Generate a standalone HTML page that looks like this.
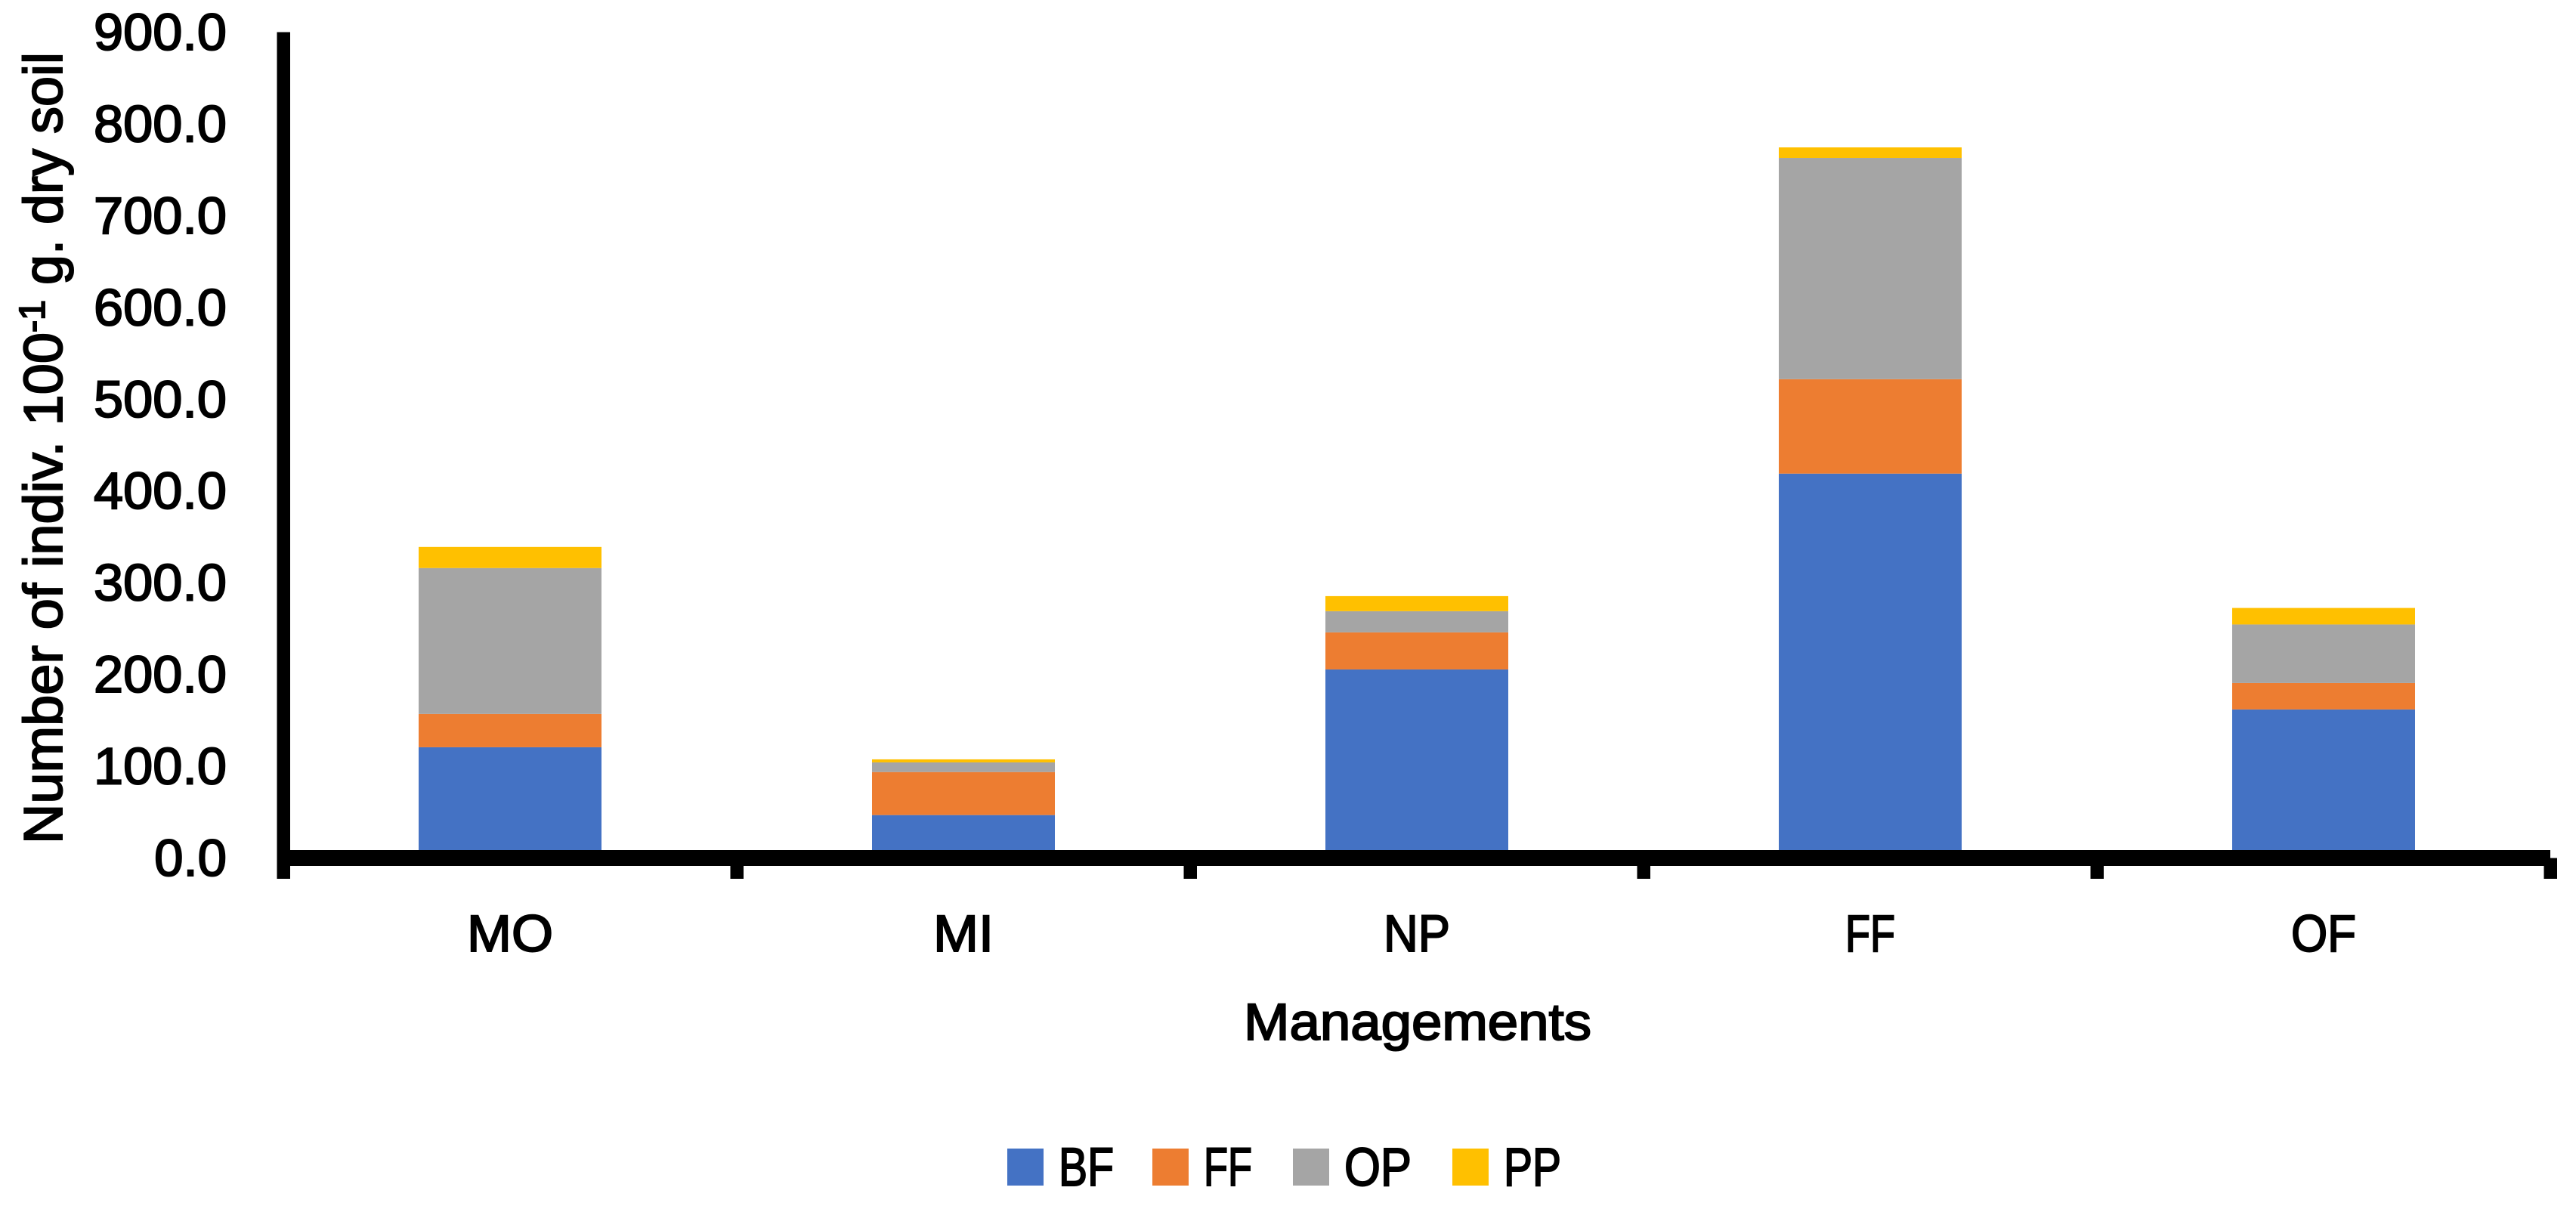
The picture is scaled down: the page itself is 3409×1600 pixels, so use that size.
<!DOCTYPE html>
<html lang="en">
<head>
<meta charset="utf-8">
<title>Number of individuals by management</title>
<style>
html,body{margin:0;padding:0;background:#fff;}
svg{display:block;}
text{font-family:"Liberation Sans",sans-serif;fill:#000;stroke:#000;stroke-width:2px;}
</style>
</head>
<body>
<svg id="chart" xmlns="http://www.w3.org/2000/svg" width="3409" height="1600" viewBox="0 0 3409 1600">
<rect x="0" y="0" width="3409" height="1600" fill="#ffffff"/>
<g id="bars"></g>
<g id="axes"></g>
<g id="labels"></g>
<g>
<text transform="translate(82 1117) rotate(-90)" font-size="72" textLength="677" lengthAdjust="spacingAndGlyphs">Number of indiv. 100</text>
<text transform="translate(59 440) rotate(-90)" font-size="48" textLength="43" lengthAdjust="spacingAndGlyphs">-1</text>
<text transform="translate(82 377) rotate(-90)" font-size="72" textLength="308" lengthAdjust="spacingAndGlyphs">g. dry soil</text>
</g>
<text x="1646" y="1376" font-size="69" textLength="460" lengthAdjust="spacingAndGlyphs">Managements</text>
<g id="legend"></g>
</svg>
<script>
const categories = ['MO', 'MI', 'NP', 'FF', 'OF'];
const seriesNames = ['BF', 'FF', 'OP', 'PP'];
const seriesColors = ['#4472c4', '#ed7d31', '#a5a5a5', '#ffc000'];
const bfValues = [120.7, 46.8, 205.5, 418.9, 161.9];
const ffValues = [36.3, 46.9, 40.4, 102.9, 28.8];
const opValues = [159.0, 10.5, 23.1, 241.1, 63.8];
const ppValues = [23.0, 3.3, 16.4, 11.5, 18.0];
const yTickValues = [0, 100, 200, 300, 400, 500, 600, 700, 800, 900];

const seriesValues = [bfValues, ffValues, opValues, ppValues];
const NS = 'http://www.w3.org/2000/svg';
const plotLeft = 375;
const plotStep = 600;
const barWidth = 242;
const yZero = 1135.5;
const yPerUnit = 1.2144;
const catLabelWidths = [114, 80, 88, 66, 86];

function xBand(i) { return plotLeft + plotStep * (i + 0.5); }
function xEdge(i) { return plotLeft + plotStep * i; }
function yScale(v) { return yZero - v * yPerUnit; }

function make(tag, attrs, parent) {
  const el = document.createElementNS(NS, tag);
  for (const k in attrs) el.setAttribute(k, attrs[k]);
  parent.appendChild(el);
  return el;
}

const barsG = document.getElementById('bars');
categories.forEach(function (cat, i) {
  let cum = 0;
  seriesValues.forEach(function (vals, s) {
    const y0 = yScale(cum);
    const y1 = yScale(cum + vals[i]);
    const r = make('rect', {
      x: xBand(i) - barWidth / 2,
      y: y1,
      width: barWidth,
      height: y0 - y1,
      fill: seriesColors[s]
    }, barsG);
    
    
    cum += vals[i];
  });
});

const axesG = document.getElementById('axes');
const yAxisLine = make('rect', {
  x: plotLeft - 8.5, y: yScale(900), width: 17.5, height: 1163 - yScale(900), fill: '#000'
}, axesG);


const xAxisLine = make('rect', {
  x: plotLeft - 8.5, y: yZero - 10.5, width: xEdge(categories.length) - plotLeft + 8.5, height: 21, fill: '#000'
}, axesG);


for (let i = 1; i <= categories.length; i++) {
  const t = make('rect', {
    x: xEdge(i) - 8.5, y: yZero, width: 17.5, height: 1163 - yZero, fill: '#000'
  }, axesG);
  
  
}

const labelsG = document.getElementById('labels');
yTickValues.forEach(function (v) {
  const t = make('text', {
    x: 300, y: yScale(v) + 23.5, 'font-size': 69, 'text-anchor': 'end'
  }, labelsG);
  
  
  t.textContent = v.toFixed(1);
  if (v >= 100) {
    t.setAttribute('textLength', '176');
    t.setAttribute('lengthAdjust', 'spacingAndGlyphs');
  }
});
categories.forEach(function (cat, i) {
  const t = make('text', {
    x: xBand(i) - catLabelWidths[i] / 2, y: 1259, 'font-size': 69,
    textLength: catLabelWidths[i], lengthAdjust: 'spacingAndGlyphs'
  }, labelsG);
  
  
  t.textContent = cat;
});

const legendG = document.getElementById('legend');
let legendX = 1333;
const legendGap = 20;
const legendTextW = [73, 64, 89, 76];
const legendAfter = [51, 54, 54, 0];
seriesNames.forEach(function (name, s) {
  const sw = make('rect', {
    x: legendX, y: 1520, width: 48, height: 49, fill: seriesColors[s]
  }, legendG);
  
  
  const t = make('text', {
    x: legendX + 48 + legendGap, y: 1569, 'font-size': 71,
    textLength: legendTextW[s], lengthAdjust: 'spacingAndGlyphs'
  }, legendG);
  
  
  t.textContent = name;
  legendX += 48 + legendGap + legendTextW[s] + legendAfter[s];
});
</script>
</body>
</html>
